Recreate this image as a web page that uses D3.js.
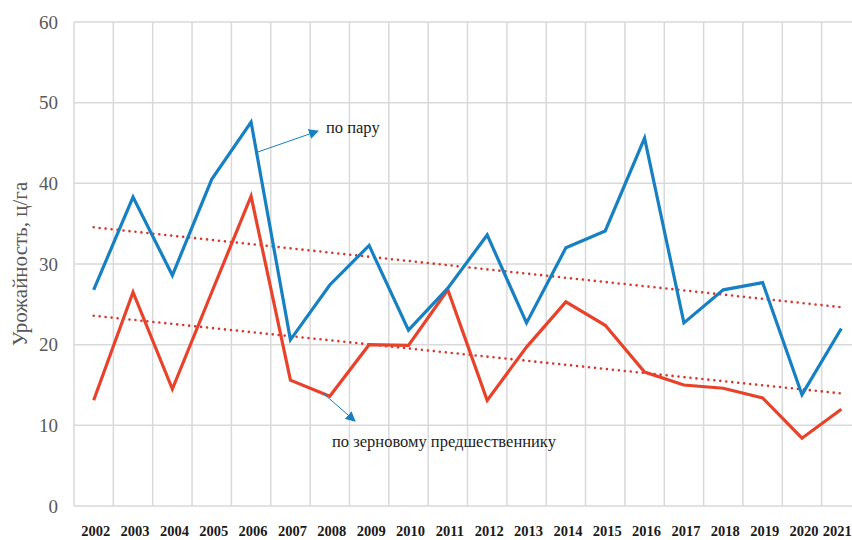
<!DOCTYPE html>
<html>
<head>
<meta charset="utf-8">
<script src="https://cdn.jsdelivr.net/npm/d3@7"></script>
<style>
  body { margin: 0; background: #fff; }
  svg { display: block; }
  svg text { font-family: "Liberation Serif", "Times New Roman", serif; }
</style>
</head>
<body>
<svg id="chart"></svg>
<script>
// years on the category axis
const years = ["2002", "2003", "2004", "2005", "2006", "2007", "2008", "2009", "2010", "2011",
               "2012", "2013", "2014", "2015", "2016", "2017", "2018", "2019", "2020", "2021"];
// урожайность по пару, ц/га
const fallowYield = [26.8, 38.3, 28.6, 40.5, 47.6, 20.6, 27.4, 32.3, 21.8, 27.0,
                     33.6, 22.7, 32.0, 34.1, 45.6, 22.7, 26.8, 27.7, 13.8, 22.0];
// урожайность по зерновому предшественнику, ц/га
const grainYield = [13.1, 26.5, 14.5, 26.5, 38.4, 15.6, 13.6, 20.0, 19.9, 26.8,
                    13.1, 19.7, 25.3, 22.4, 16.6, 15.0, 14.6, 13.4, 8.4, 12.0];
const yTicks = [0, 10, 20, 30, 40, 50, 60];

const width = 852, height = 540;

const svg = d3.select("#chart")
    .attr("width", width)
    .attr("height", height);

const xScale = d3.scaleBand()
    .domain(years)
    .range([74, 861]);

const yScale = d3.scaleLinear()
    .domain([0, 60])
    .range([506, 22]);

const cx = d => xScale(d) + xScale.bandwidth() / 2;

// gridlines
svg.append("g")
    .selectAll("line")
    .data(yTicks)
    .join("line")
    .attr("x1", 74)
    .attr("x2", width)
    .attr("y1", d => yScale(d))
    .attr("y2", d => yScale(d))
    .attr("stroke", "#d9d9d9")
    .attr("stroke-width", 1.5);

svg.append("g")
    .selectAll("line")
    .data(years)
    .join("line")
    .attr("x1", d => xScale(d))
    .attr("x2", d => xScale(d))
    .attr("y1", yScale(60))
    .attr("y2", yScale(0))
    .attr("stroke", "#d9d9d9")
    .attr("stroke-width", 1.5);

// y axis labels
const yAxis = d3.axisLeft(yScale)
    .tickValues(yTicks)
    .tickSize(0)
    .tickPadding(16);

svg.append("g")
    .attr("transform", "translate(74,0)")
    .call(yAxis)
    .call(g => g.select(".domain").remove())
    .call(g => g.attr("font-family", null))
    .selectAll("text")
    .style("font-size", "19px")
    .attr("fill", "#595959");

// x axis labels
const xAxis = d3.axisBottom(xScale)
    .tickSize(0)
    .tickPadding(20);

svg.append("g")
    .attr("transform", `translate(2,${yScale(0)})`)
    .call(xAxis)
    .call(g => g.select(".domain").remove())
    .call(g => g.attr("font-family", null))
    .selectAll("text")
    .style("font-size", "14.5px")
    .style("font-weight", "bold")
    .attr("fill", "#1a1a1a")
    .attr("dx", d => d === "2021" ? -6 : 0);

svg.append("text")
    .attr("transform", `translate(27,${yScale(30)}) rotate(-90)`)
    .attr("text-anchor", "middle")
    .style("font-size", "21px")
    .attr("fill", "#595959")
    .text("Урожайность, ц/га");

// linear trend lines (least squares over the series)
function trend(values) {
    const idx = values.map((v, i) => i);
    const mx = d3.mean(idx), my = d3.mean(values);
    const b = d3.sum(idx, i => (i - mx) * (values[i] - my)) / d3.sum(idx, i => (i - mx) ** 2);
    const a = my - b * mx;
    return [0, values.length - 1].map(i => ({ year: years[i], v: a + b * i }));
}

const line = d3.line()
    .x(d => cx(d.year))
    .y(d => yScale(d.v));

[fallowYield, grainYield].forEach(values => {
    svg.append("path")
        .attr("d", line(trend(values)))
        .attr("fill", "none")
        .attr("stroke", "#d6372a")
        .attr("stroke-width", 2.6)
        .attr("stroke-linecap", "round")
        .attr("stroke-dasharray", "0,6");
});

// series
const series = [
    { values: grainYield, color: "#e8432a" },
    { values: fallowYield, color: "#1680c2" }
];

series.forEach(s => {
    svg.append("path")
        .attr("d", line(s.values.map((v, i) => ({ year: years[i], v: v }))))
        .attr("fill", "none")
        .attr("stroke", s.color)
        .attr("stroke-width", 3.2)
        .attr("stroke-linejoin", "miter");
});

// annotations with arrows
svg.append("defs").append("marker")
    .attr("id", "arrow")
    .attr("viewBox", "0 0 10 10")
    .attr("refX", 9)
    .attr("refY", 5)
    .attr("markerWidth", 10)
    .attr("markerHeight", 10)
    .attr("markerUnits", "userSpaceOnUse")
    .attr("orient", "auto")
    .append("path")
    .attr("d", "M0,0 L10,5 L0,10 z")
    .attr("fill", "#1680c2");

svg.append("line")
    .attr("x1", 255).attr("y1", 153)
    .attr("x2", 318).attr("y2", 131)
    .attr("stroke", "#1680c2")
    .attr("stroke-width", 1)
    .attr("marker-end", "url(#arrow)");

svg.append("text")
    .attr("x", 326)
    .attr("y", 133)
    .style("font-size", "16.5px")
    .attr("fill", "#222")
    .text("по пару");

svg.append("line")
    .attr("x1", 324).attr("y1", 394)
    .attr("x2", 355).attr("y2", 421)
    .attr("stroke", "#1680c2")
    .attr("stroke-width", 1)
    .attr("marker-end", "url(#arrow)");

svg.append("text")
    .attr("x", 332)
    .attr("y", 447)
    .style("font-size", "16.5px")
    .attr("fill", "#222")
    .text("по зерновому предшественнику");
</script>
</body>
</html>
